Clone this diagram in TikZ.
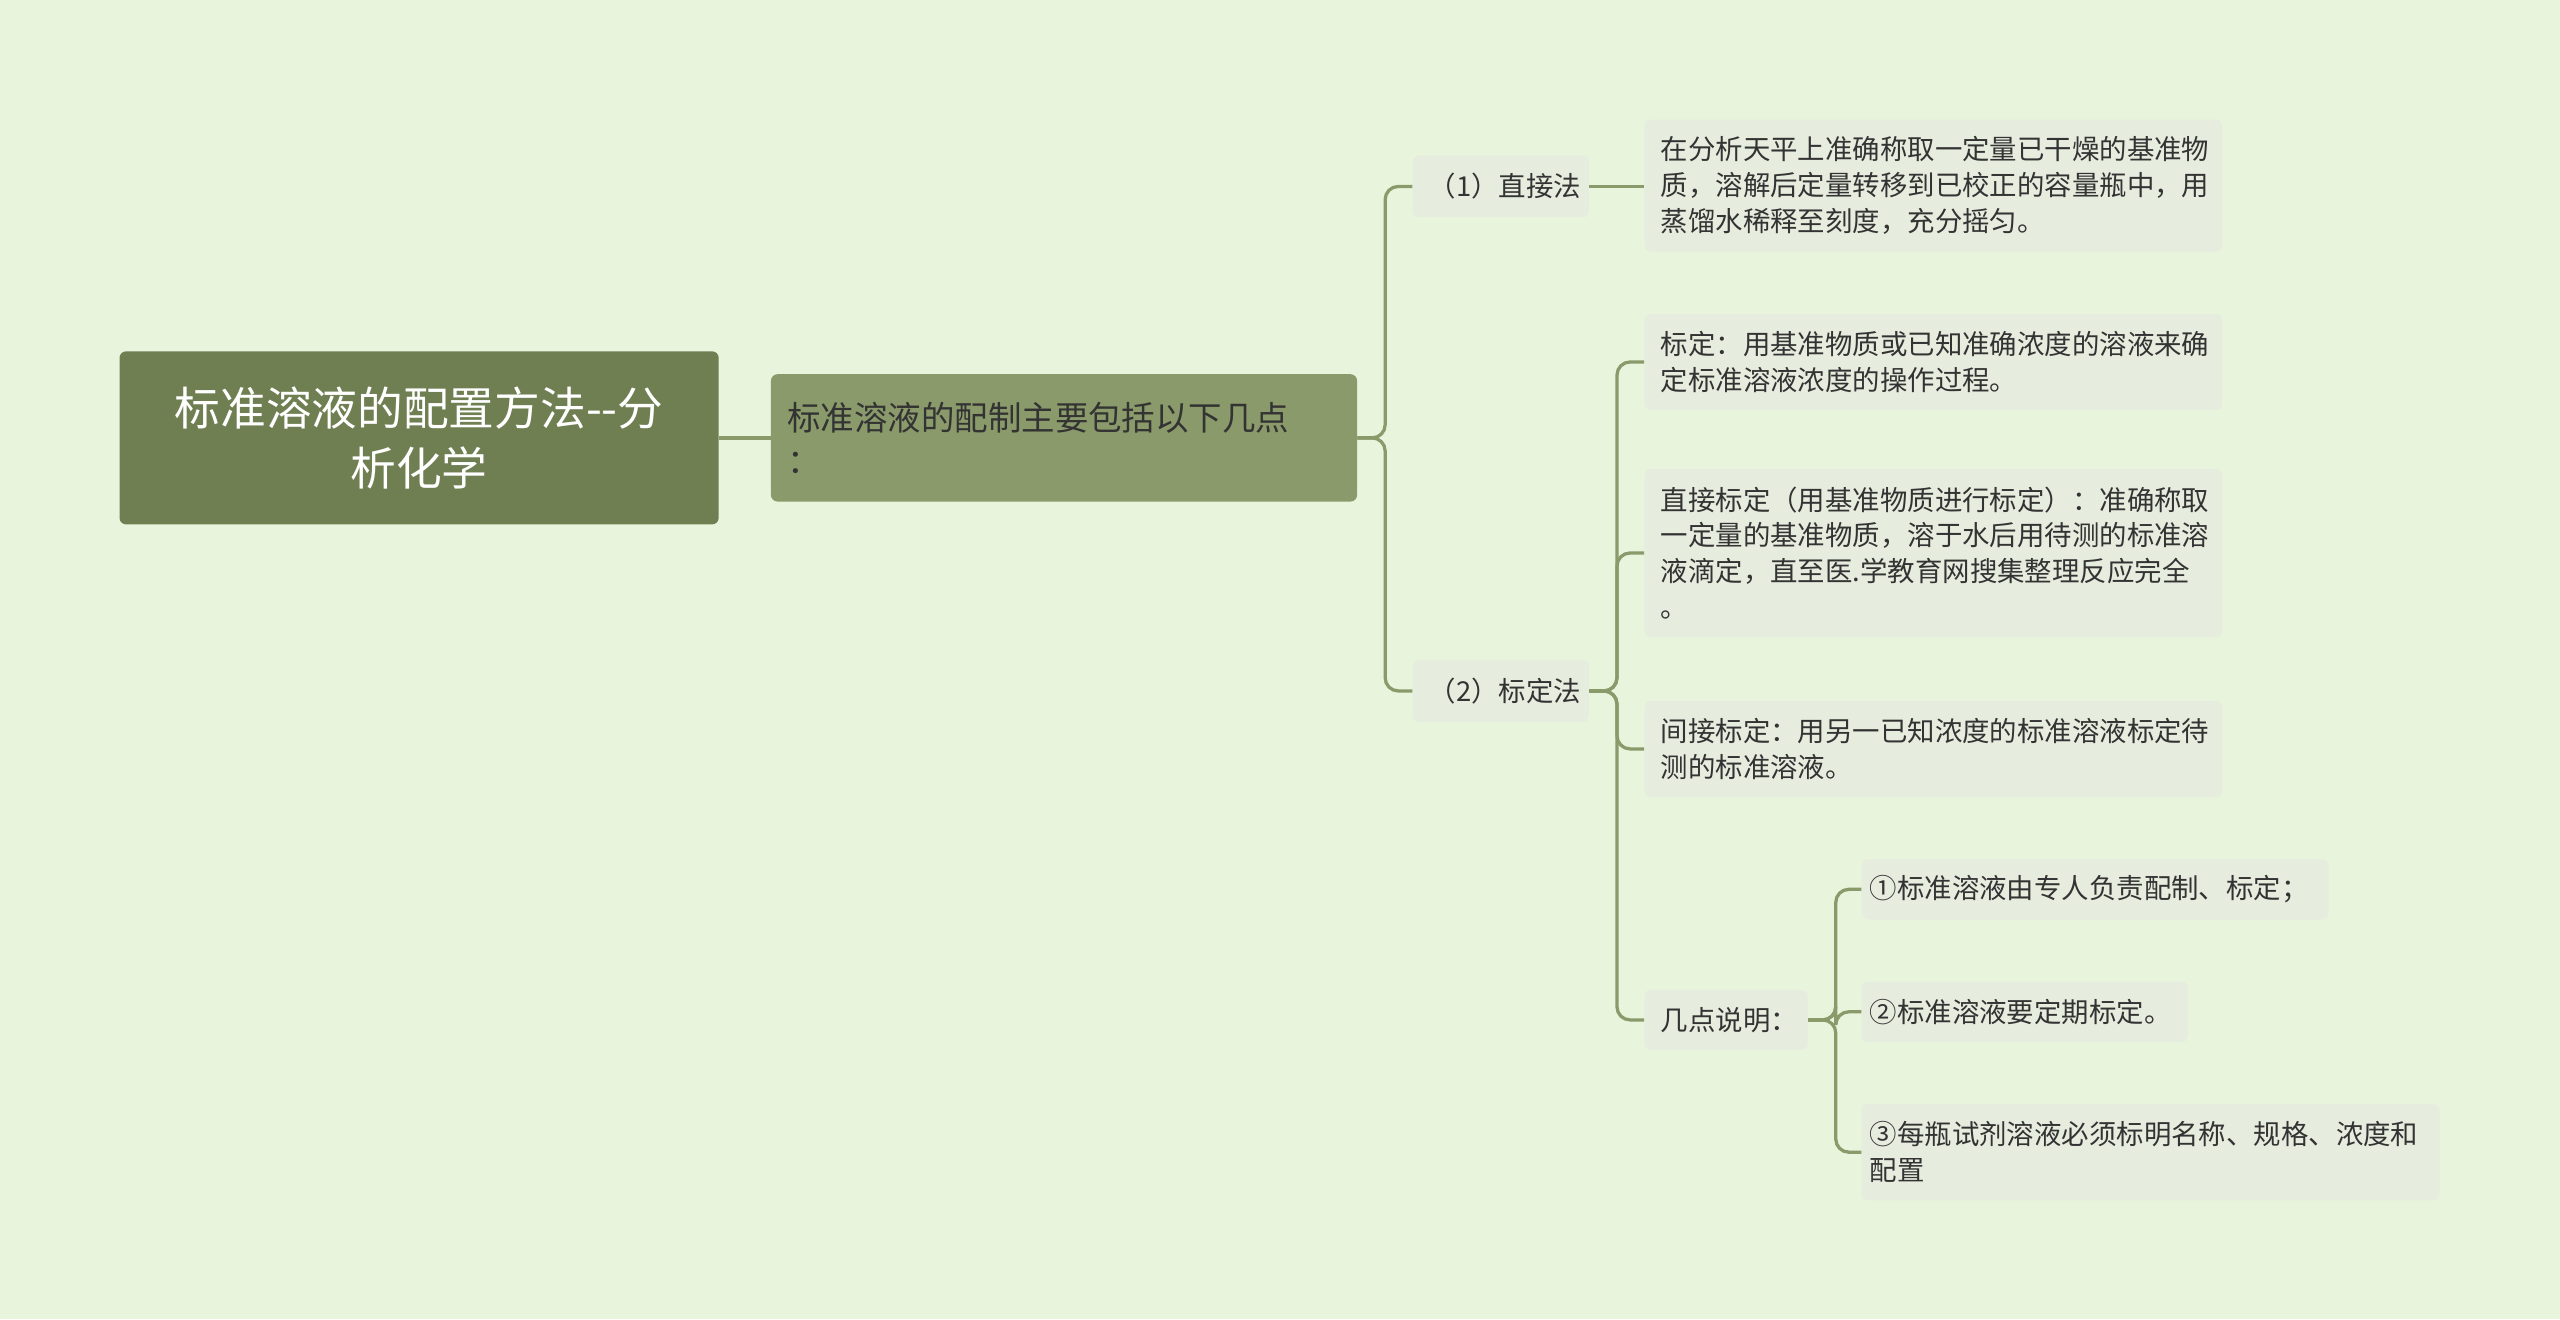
\documentclass[tikz,border=0pt]{standalone}
\usepackage{fontspec}
\newfontfamily\cjk{Noto Sans CJK SC}
\usetikzlibrary{calc}
\definecolor{bg}{HTML}{E8F5DC}
\definecolor{rootc}{HTML}{6F7F52}
\definecolor{l1c}{HTML}{8A9A6A}
\definecolor{leafc}{HTML}{E6ECDE}
\definecolor{linec}{HTML}{8A9A6A}
\definecolor{txt}{HTML}{333333}
\begin{document}
\begin{tikzpicture}[x=1pt,y=-1pt,
  box/.style={anchor=north west,rounded corners=4pt,inner xsep=10pt,inner ysep=0pt,align=left,font=\cjk\fontsize{16.8}{22}\selectfont,text=txt,fill=leafc},
  conn/.style={draw=linec,line width=2pt,rounded corners=8pt}]
\fill[bg] (0,0) rectangle (1568,808);
\useasboundingbox (0,0) rectangle (1568,808);
\node[box,fill=rootc,text=white,align=center,font=\cjk\fontsize{28}{37}\selectfont,minimum width=367pt,minimum height=106pt,text width=347pt] (root) at (73,215) {标准溶液的配置方法--分\\析化学};
\node[box,fill=l1c,font=\cjk\fontsize{20.5}{26}\selectfont,minimum width=359pt,minimum height=78pt,text width=339pt] (l1) at (472,229) {标准溶液的配制主要包括以下几点\\：};
\node[box,minimum width=108pt,minimum height=38pt,text width=88pt] (a) at (865,95) {（1）直接法};
\node[box,minimum width=108pt,minimum height=38pt,text width=88pt] (b) at (865,404) {（2）标定法};
\node[box,minimum width=354pt,minimum height=81pt,text width=334pt] (a1) at (1007,73) {在分析天平上准确称取一定量已干燥的基准物\\质，溶解后定量转移到已校正的容量瓶中，用\\蒸馏水稀释至刻度，充分摇匀。};
\node[box,minimum width=354pt,minimum height=59pt,text width=334pt] (b1) at (1007,192) {标定：用基准物质或已知准确浓度的溶液来确\\定标准溶液浓度的操作过程。};
\node[box,minimum width=354pt,minimum height=103pt,text width=334pt] (b2) at (1007,287) {直接标定（用基准物质进行标定）：准确称取\\一定量的基准物质，溶于水后用待测的标准溶\\液滴定，直至医.学教育网搜集整理反应完全\\。};
\node[box,minimum width=354pt,minimum height=59pt,text width=334pt] (b3) at (1007,429) {间接标定：用另一已知浓度的标准溶液标定待\\测的标准溶液。};
\node[box,minimum width=100pt,minimum height=37pt,text width=80pt] (b4) at (1007,606) {几点说明：};
\node[box,minimum width=286pt,minimum height=37pt,text width=276pt,inner xsep=5pt] (c1) at (1140,526) {①标准溶液由专人负责配制、标定；};
\node[box,minimum width=200pt,minimum height=37pt,text width=190pt,inner xsep=5pt] (c2) at (1140,601) {②标准溶液要定期标定。};
\node[box,minimum width=354pt,minimum height=59pt,text width=344pt,inner xsep=5pt] (c3) at (1140,676) {③每瓶试剂溶液必须标明名称、规格、浓度和\\配置};
\draw[conn] (root.east) -- (l1.west);
\foreach \t in {a,b} \draw[conn] (l1.east) -- ++(17,0) |- (\t.west);
\draw[conn] (a.east) -- (a.east -| a1.west);
\foreach \t in {b1,b2,b3,b4} \draw[conn] (b.east) -- ++(17,0) |- (\t.west);
\foreach \t in {c1,c2,c3} \draw[conn] (b4.east) -- ++(17,0) |- (\t.west);
\end{tikzpicture}
\end{document}
